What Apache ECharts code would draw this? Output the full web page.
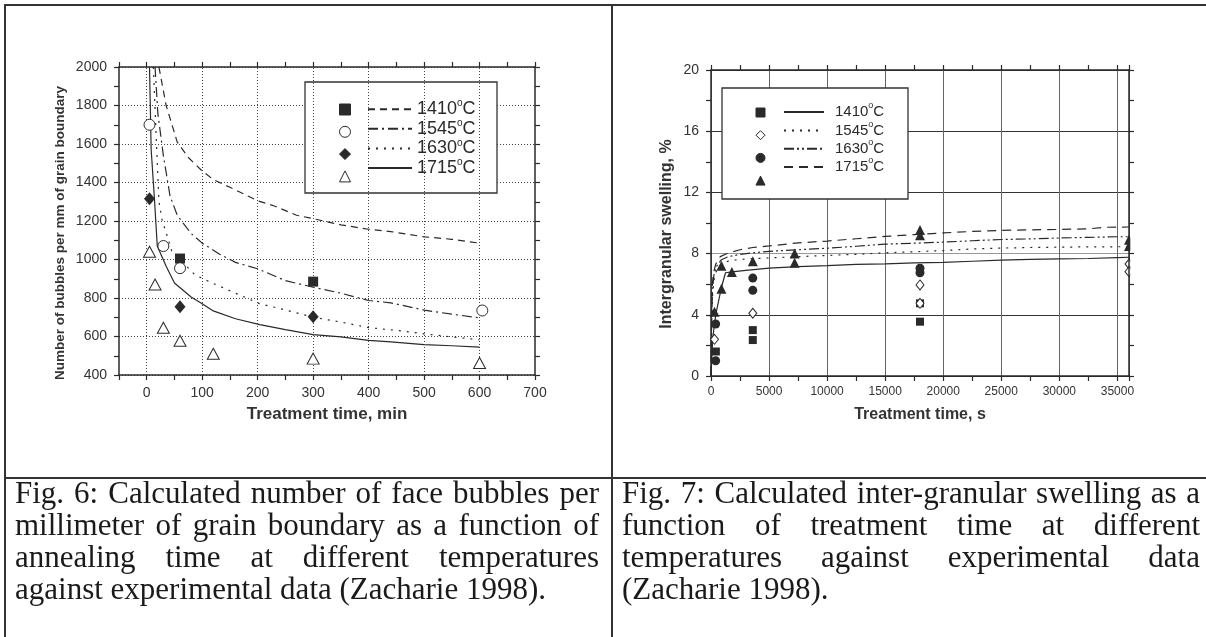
<!DOCTYPE html>
<html><head><meta charset="utf-8">
<script src="https://cdn.jsdelivr.net/npm/echarts@6/dist/echarts.min.js"></script>
<style>
html,body{margin:0;padding:0;background:#fff;}
#wrap{position:relative;width:1206px;height:637px;overflow:hidden;background:#fff;}
#chart{position:absolute;left:0;top:0;width:1206px;height:637px;}
.rule{position:absolute;background:#333;}
.cap{position:absolute;font-family:'Liberation Serif','Times New Roman',serif;font-size:31px;line-height:32px;color:#1a1a1a;}
.just{text-align:justify;text-align-last:justify;}
</style></head>
<body>
<div id="wrap">
<div id="chart"></div>
<div class="rule" style="left:4px;top:4px;width:1202px;height:2px"></div>
<div class="rule" style="left:4px;top:4px;width:2px;height:633px"></div>
<div class="rule" style="left:611px;top:4px;width:2px;height:633px"></div>
<div class="rule" style="left:4px;top:477px;width:1202px;height:2px"></div>
<div id="caps"></div>
</div>
<script>
// ---------------- captions ----------------
const caption6 = ["Fig. 6: Calculated number of face bubbles per",
  "millimeter of grain boundary as a function of",
  "annealing time at different temperatures",
  "against experimental data (Zacharie 1998)."];
const caption7 = ["Fig. 7: Calculated inter-granular swelling as a",
  "function of treatment time at different",
  "temperatures against experimental data",
  "(Zacharie 1998)."];

// ---------------- Fig. 6 data (time in min, bubbles per mm) ----------------
const f6_xTicks = [0, 100, 200, 300, 400, 500, 600, 700];
const f6_yTicks = [400, 600, 800, 1000, 1200, 1400, 1600, 1800, 2000];
const f6_gridX = [0, 100, 200, 300, 400, 500, 600];
const f6_exp1410 = [[60,1005],[300,885]];
const f6_exp1545 = [[5,1700],[30,1070],[60,955],[605,735]];
const f6_exp1630 = [[5,1315],[60,755],[300,703]];
const f6_exp1715 = [[5,1040],[15,870],[30,645],[60,578],[120,510],[300,485],[600,462]];
const f6_mod1410 = [[22,2000],[35,1800],[55,1610],[75,1530],[100,1460],[120,1415],[150,1375],[200,1305],[230,1278],[270,1230],[300,1212],[350,1180],[400,1157],[440,1145],[500,1118],[550,1105],[600,1085]];
const f6_mod1545 = [[15,2000],[20,1760],[30,1540],[42,1330],[55,1230],[80,1135],[100,1085],[130,1030],[160,985],[200,952],[250,890],[300,856],[350,825],[400,787],[440,775],[500,737],[550,716],[600,697]];
const f6_mod1630 = [[12,2000],[17,1640],[22,1300],[28,1200],[35,1140],[45,1045],[65,985],[87,920],[118,878],[160,825],[204,770],[250,738],[300,700],[350,675],[400,646],[450,632],[500,614],[550,598],[600,583]];
const f6_mod1715 = [[5,2000],[8,1570],[14,1310],[19,1070],[35,965],[50,878],[80,805],[100,770],[120,733],[160,692],[204,662],[250,636],[300,610],[350,598],[400,580],[440,572],[500,558],[550,552],[600,545]];

// ---------------- Fig. 7 data (time in s, swelling %) ----------------
const f7_xTicks = [0, 5000, 10000, 15000, 20000, 25000, 30000, 35000];
const f7_yTicks = [0, 4, 8, 12, 16, 20];
const f7_exp1410 = [[420,1.6],[3600,3.0],[3600,2.35],[18000,4.75],[18000,3.55]];
const f7_exp1545 = [[300,2.4],[3600,4.1],[18000,5.95],[18000,4.75],[36000,7.32],[36000,6.82]];
const f7_exp1630 = [[400,3.4],[400,1.0],[3600,6.4],[3600,5.6],[18000,7.04],[18000,6.75]];
const f7_exp1715 = [[300,4.2],[900,5.7],[900,7.2],[1800,6.8],[3600,7.5],[7200,8.0],[7200,7.4],[18000,9.55],[18000,9.2],[36000,8.9],[36000,8.5]];
const f7_mod1410 = [[0,0],[150,2.5],[430,4.1],[900,5.8],[1250,6.75],[1800,6.8],[3000,6.9],[5000,7.05],[7500,7.15],[10000,7.22],[12500,7.3],[15000,7.33],[17500,7.4],[20000,7.42],[22500,7.5],[25000,7.58],[27500,7.62],[30000,7.65],[32500,7.68],[35000,7.74],[36000,7.76]];
const f7_mod1545 = [[0,0],[60,3.5],[150,5.5],[300,6.5],[600,7.1],[1000,7.35],[1600,7.55],[3000,7.65],[5000,7.72],[7500,7.8],[10000,7.88],[12500,7.95],[15000,8.05],[17500,8.12],[20000,8.2],[22500,8.3],[25000,8.36],[27500,8.4],[30000,8.42],[32500,8.44],[36000,8.45]];
const f7_mod1630 = [[0,0],[50,3.0],[120,5.5],[250,6.6],[500,7.2],[900,7.6],[1500,7.8],[2500,7.95],[3600,8.05],[5000,8.15],[7500,8.25],[10000,8.35],[12500,8.48],[15000,8.62],[17500,8.68],[20000,8.75],[22500,8.84],[25000,8.92],[27500,8.96],[30000,9.02],[32500,9.06],[35000,9.1],[36000,9.1]];
const f7_mod1715 = [[0,0],[40,3.5],[100,5.8],[200,6.7],[400,7.3],[800,7.8],[1500,8.05],[2500,8.25],[3600,8.4],[5000,8.5],[7500,8.7],[10000,8.82],[12500,8.97],[15000,9.12],[17500,9.24],[20000,9.35],[22500,9.45],[25000,9.52],[27500,9.55],[30000,9.58],[32500,9.62],[34000,9.72],[36000,9.74]];

const temps = ['1410', '1545', '1630', '1715'];

// ---------------- build captions ----------------
(function(){
  const caps = document.getElementById('caps');
  function put(lines, left, width){
    lines.forEach((t, i) => {
      const d = document.createElement('div');
      d.className = 'cap' + (i < lines.length - 1 ? ' just' : '');
      d.style.left = left + 'px';
      d.style.top = (477 + 32 * i) + 'px';
      d.style.width = width + 'px';
      d.textContent = t;
      caps.appendChild(d);
    });
  }
  put(caption6, 15, 584);
  put(caption7, 622, 578);
})();

// ---------------- chart ----------------
const ink = '#2a2a2a';
const sans = "'Liberation Sans', Arial, sans-serif";
const axLine = {show: true, onZero: false, lineStyle: {color: ink, width: 1.5}};
const axTick = {show: true, length: 5, inside: false, lineStyle: {color: ink, width: 1.2}};
const minTick = {show: true, splitNumber: 2, length: 5, lineStyle: {color: ink, width: 1.2}};

function fmt(ticks){ return v => (ticks.indexOf(v) >= 0 ? String(v) : ''); }

const chart = echarts.init(document.getElementById('chart'), null, {renderer: 'canvas'});

function lineSeries(name, data, xi, yi, dash, extra){
  return Object.assign({
    type: 'line', name: name, data: data, xAxisIndex: xi, yAxisIndex: yi,
    symbol: 'none', showSymbol: false, smooth: false, clip: true, z: 2,
    lineStyle: {color: ink, width: 1.2, type: dash},
    itemStyle: {color: ink},
    animation: false, silent: true
  }, extra || {});
}
function scatterSeries(name, data, xi, yi, symbol, size, open){
  return {
    type: 'scatter', name: name, data: data, xAxisIndex: xi, yAxisIndex: yi,
    symbol: symbol, symbolSize: size, z: 5, clip: false,
    itemStyle: open ? {color: '#fff', borderColor: ink, borderWidth: 1, opacity: 1}
                    : {color: ink, borderColor: ink, borderWidth: 0, opacity: 1},
    animation: false, silent: true
  };
}

const f6Dash = {'1410': [7, 5], '1545': [10, 4, 2, 4], '1630': [2, 6], '1715': 'solid'};
const f7Dash = {'1410': 'solid', '1545': [2, 6], '1630': [10, 3, 2, 3, 2, 3], '1715': [9, 6]};

const degRich6 = {n: {fontSize: 18, fontFamily: sans, color: ink, lineHeight: 21.3}, s: {fontSize: 10, fontFamily: sans, color: ink, lineHeight: 10, verticalAlign: 'top'}};
const degRich7 = {n: {fontSize: 15, fontFamily: sans, color: ink, lineHeight: 21.7}, s: {fontSize: 9, fontFamily: sans, color: ink, lineHeight: 9, verticalAlign: 'top'}};
const hiddenIcon = {color: 'rgba(0,0,0,0)', borderColor: 'rgba(0,0,0,0)', borderWidth: 0, opacity: 0};

const option = {
  backgroundColor: 'transparent',
  animation: false,
  grid: [
    {left: 119, top: 67, width: 416, height: 308, outerBoundsMode: 'none', containLabel: false},
    {left: 711, top: 70, width: 418, height: 306, outerBoundsMode: 'none', containLabel: false}
  ],
  xAxis: [
    {gridIndex: 0, type: 'value', position: 'bottom', min: -50, max: 700, interval: 50,
     axisLine: axLine, axisTick: axTick,
     axisLabel: {formatter: fmt(f6_xTicks), color: '#333', fontSize: 14, fontFamily: sans, margin: 11},
     splitLine: {show: false},
     name: 'Treatment time, min', nameLocation: 'middle', nameGap: 31,
     nameTextStyle: {fontWeight: 'bold', fontSize: 17, color: '#333', fontFamily: sans}},
    {gridIndex: 0, type: 'value', position: 'top', min: -50, max: 700, interval: 50,
     axisLine: axLine, axisTick: axTick, axisLabel: {show: false}, splitLine: {show: false}},
    {gridIndex: 1, type: 'value', position: 'bottom', min: 0, max: 36000, interval: 5000,
     axisLine: axLine, axisTick: axTick, minorTick: minTick,
     axisLabel: {formatter: fmt(f7_xTicks), color: '#333', fontSize: 12, fontFamily: sans, margin: 10},
     splitLine: {show: true, lineStyle: {color: '#666', width: 1}},
     name: 'Treatment time, s', nameLocation: 'middle', nameGap: 31,
     nameTextStyle: {fontWeight: 'bold', fontSize: 16, color: '#333', fontFamily: sans}},
    {gridIndex: 1, type: 'value', position: 'top', min: 0, max: 36000, interval: 5000,
     axisLine: axLine, axisTick: axTick, minorTick: minTick, axisLabel: {show: false}, splitLine: {show: false}}
  ],
  yAxis: [
    {gridIndex: 0, type: 'value', position: 'left', min: 400, max: 2000, interval: 200,
     axisLine: axLine, axisTick: axTick, minorTick: minTick,
     axisLabel: {formatter: fmt(f6_yTicks), color: '#333', fontSize: 14, fontFamily: sans, margin: 12},
     splitLine: {show: true, lineStyle: {color: '#444', width: 1, type: [1, 2]}},
     name: 'Number of bubbles per mm of grain boundary', nameLocation: 'middle', nameGap: 52,
     nameTextStyle: {fontWeight: 'bold', fontSize: 13.5, color: '#333', fontFamily: sans, padding: [0, 24, 0, 0]}},
    {gridIndex: 0, type: 'value', position: 'right', min: 400, max: 2000, interval: 200,
     axisLine: axLine, axisTick: axTick, minorTick: minTick, axisLabel: {show: false}, splitLine: {show: false}},
    {gridIndex: 1, type: 'value', position: 'left', min: 0, max: 20, interval: 4,
     axisLine: axLine, axisTick: axTick, minorTick: minTick,
     axisLabel: {formatter: fmt(f7_yTicks), color: '#333', fontSize: 14, fontFamily: sans, margin: 12},
     splitLine: {show: true, lineStyle: {color: ['#333', '#333', '#999', '#333', '#333', '#333'], width: 1}},
     name: 'Intergranular swelling, %', nameLocation: 'middle', nameGap: 36,
     nameTextStyle: {fontWeight: 'bold', fontSize: 16, color: '#333', fontFamily: sans, padding: [0, 22, 0, 0]}},
    {gridIndex: 1, type: 'value', position: 'right', min: 0, max: 20, interval: 4, z: 20,
     axisLine: axLine, axisTick: axTick, minorTick: minTick, axisLabel: {show: false}, splitLine: {show: false}}
  ],
  legend: [
    {data: temps.map(t => 'A' + t), orient: 'vertical', left: 339, top: 103.5, padding: 0,
     itemWidth: 11, itemHeight: 11, itemGap: 10.3, formatter: () => '', selectedMode: false, z: 10,
     itemStyle: {borderWidth: 1}},
    {data: temps.map(t => 'B' + t), orient: 'vertical', left: 367, top: 98.5, padding: 0,
     itemWidth: 44, itemHeight: 14, itemGap: 0, selectedMode: false, z: 10,
     itemStyle: hiddenIcon,
     formatter: n => '{n|' + n.slice(1) + '}{s|o}{n|C}', textStyle: {rich: degRich6}},
    {data: temps.map(t => 'C' + t), orient: 'vertical', left: 755.5, top: 107.5, padding: 0,
     itemWidth: 9, itemHeight: 9, itemGap: 12.7, formatter: () => '', selectedMode: false, z: 10,
     itemStyle: {borderWidth: 1}},
    {data: temps.map(t => 'D' + t), orient: 'vertical', left: 783, top: 101.2, padding: 0,
     itemWidth: 40, itemHeight: 14, itemGap: 0, selectedMode: false, z: 10,
     itemStyle: hiddenIcon,
     formatter: n => '{n|' + n.slice(1) + '}{s|o}{n|C}', textStyle: {rich: degRich7, padding: [0, 0, 0, 6]}}
  ],
  graphic: {elements: [
    {type: 'rect', z: 3, shape: {x: 305, y: 82, width: 192, height: 111}, style: {fill: '#fff', stroke: '#333', lineWidth: 1.3}, silent: true},
    {type: 'rect', z: 3, shape: {x: 722, y: 88, width: 186, height: 111}, style: {fill: '#fff', stroke: '#333', lineWidth: 1.3}, silent: true},
    {type: 'rect', z: 10, shape: {x: 1130.3, y: 72, width: 14, height: 302}, style: {fill: '#fff'}, silent: true}
  ]},
  series: [
    lineSeries('B1410', f6_mod1410, 0, 0, f6Dash['1410'], {
      markLine: {silent: true, symbol: ['none', 'none'], label: {show: false}, animation: false,
        lineStyle: {color: '#444', width: 1, type: [1, 2]},
        data: f6_gridX.map(v => ({xAxis: v}))}}),
    lineSeries('B1545', f6_mod1545, 0, 0, f6Dash['1545']),
    lineSeries('B1630', f6_mod1630, 0, 0, f6Dash['1630']),
    lineSeries('B1715', f6_mod1715, 0, 0, f6Dash['1715']),
    scatterSeries('A1410', f6_exp1410, 0, 0, 'rect', 10, false),
    scatterSeries('A1545', f6_exp1545, 0, 0, 'circle', 11, true),
    scatterSeries('A1630', f6_exp1630, 0, 0, 'diamond', [11, 13], false),
    scatterSeries('A1715', f6_exp1715, 0, 0, 'triangle', [12, 11], true),

    lineSeries('D1410', f7_mod1410, 2, 2, f7Dash['1410']),
    lineSeries('D1545', f7_mod1545, 2, 2, f7Dash['1545']),
    lineSeries('D1630', f7_mod1630, 2, 2, f7Dash['1630']),
    lineSeries('D1715', f7_mod1715, 2, 2, f7Dash['1715']),
    scatterSeries('C1410', f7_exp1410, 2, 2, 'rect', 8, false),
    scatterSeries('C1545', f7_exp1545, 2, 2, 'diamond', [8, 10], true),
    scatterSeries('C1630', f7_exp1630, 2, 2, 'circle', 9, false),
    scatterSeries('C1715', f7_exp1715, 2, 2, 'triangle', 10, false)
  ]
};
chart.setOption(option);
</script>
</body></html>
